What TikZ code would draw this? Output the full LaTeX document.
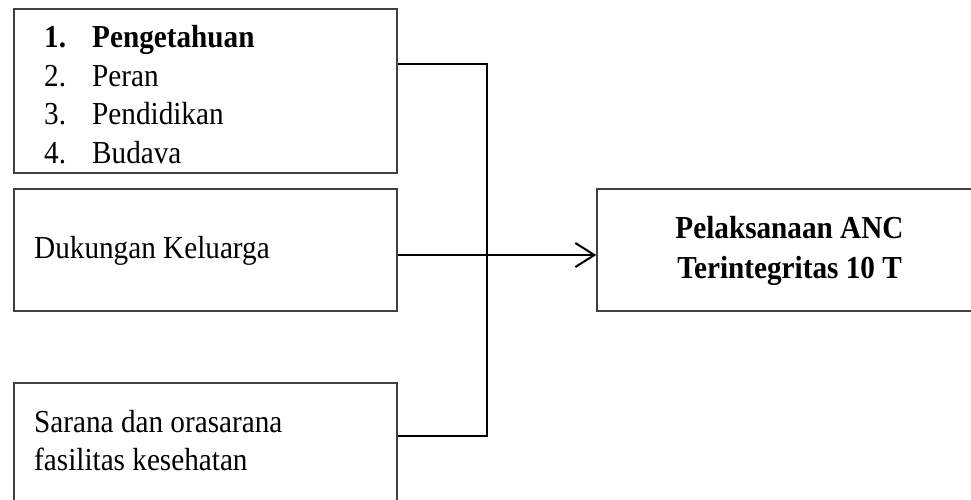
\documentclass[tikz,border=0pt]{standalone}
\usepackage{fontspec}
\setmainfont{Liberation Serif}[FakeStretch=0.913]
\usetikzlibrary{arrows.meta}
\begin{document}
\begin{tikzpicture}[x=1pt,y=-1pt,
  box/.style={draw=black!75,line width=1.5pt,rectangle,inner sep=0pt},
  txt/.style={anchor=base west,inner sep=0pt,font=\fontsize{32}{39}\selectfont},
  ctxt/.style={anchor=base,inner sep=0pt,font=\fontsize{32}{39}\selectfont\bfseries},
  conn/.style={draw=black,line width=2pt}]
\useasboundingbox (0,0) rectangle (971,499);
% boxes
\node[box,minimum width=383pt,minimum height=164pt] (b1) at (205.5,91) {};
\node[box,minimum width=383pt,minimum height=122pt] (b2) at (205.5,250) {};
\node[box,minimum width=383pt,minimum height=140pt] (b3) at (205.5,453) {};
\node[box,minimum width=390pt,minimum height=122pt] (b4) at (792,250) {};
% texts
\node[txt] (n1) at (44,47) {\textbf{1.}};
\node[txt] (l1) at (92,47) {\textbf{Pengetahuan}};
\node[txt] (n2) at (44,86) {2.};
\node[txt] (l2) at (92,86) {Peran};
\node[txt] (n3) at (44,124) {3.};
\node[txt] (l3) at (92,124) {Pendidikan};
\node[txt] (n4) at (44,163) {4.};
\node[txt] (l4) at (92,163) {Budava};
\node[txt] (d1) at (34,258) {Dukungan Keluarga};
\node[txt] (s1) at (34,432) {Sarana dan orasarana};
\node[txt] (s2) at (34,470) {fasilitas kesehatan};
\node[ctxt] (p1) at (789.5,238) {Pelaksanaan ANC};
\node[ctxt] (p2) at (789.5,278) {Terintegritas 10 T};
% connectors
\coordinate (c1) at (487,64);
\coordinate (c3) at (487,436);
\coordinate (j) at (487,255);
\draw[conn] (b1.east |- c1) -- (c1) -- (c3) -- (b3.east |- c3);
\draw[conn,-{Straight Barb[length=19pt,width=24pt,line width=2pt]}] (b2.east |- j) -- (b4.west |- j);
\end{tikzpicture}
\end{document}
